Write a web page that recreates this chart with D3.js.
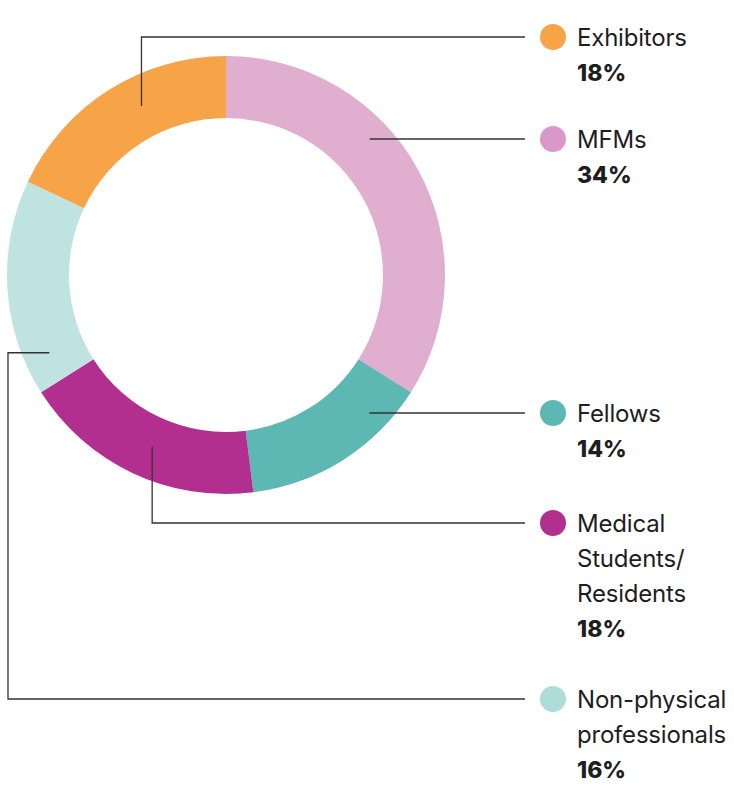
<!DOCTYPE html>
<html>
<head>
<meta charset="utf-8">
<script src="https://cdn.jsdelivr.net/npm/d3@7"></script>
<style>
  html, body { margin: 0; padding: 0; background: #fff; }
  svg { display: block; }
  text { font-family: Inter, "Noto Sans", sans-serif; fill: #1e1e1e; }
</style>
</head>
<body>
<svg id="chart" width="734" height="787"></svg>
<script>
const categories = ["MFMs", "Fellows", "Medical Students/Residents", "Non-physical professionals", "Exhibitors"];
const values = [34, 14, 18, 16, 18];
const labelLines = [["MFMs"], ["Fellows"], ["Medical", "Students/", "Residents"], ["Non-physical", "professionals"], ["Exhibitors"]];
const ringColors = ["#E0AECF", "#5DB8B3", "#B32F8F", "#BFE3E1", "#F7A348"];
const dotColors = ["#DB97C9", "#5DB8B3", "#B32F8F", "#ADDCD9", "#F7A348"];
const legendY = [139, 413, 523, 699, 37];
// where along each slice (0..1) and at which radius the leader line starts
const anchorT = [0.38, 0.23, 0.47, 0.15, 0.59];
const anchorRadius = [198, 199, 187, 193, 189];

const svg = d3.select("#chart");
const cx = 226, cy = 275, outerR = 219, innerR = 157;

const data = categories.map((c, i) => ({ name: c, value: values[i], i }));
const pie = d3.pie().value(d => d.value).sort(null);
const arcs = pie(data);
const arc = d3.arc().innerRadius(innerR).outerRadius(outerR);

const g = svg.append("g").attr("transform", `translate(${cx},${cy})`);
g.selectAll("path").data(arcs).join("path")
  .attr("d", arc)
  .attr("fill", d => ringColors[d.data.i]);

// leader lines
const lineX = 525;
function anchor(a) {
  const i = a.data.i;
  const ang = a.startAngle + anchorT[i] * (a.endAngle - a.startAngle);
  const r = anchorRadius[i];
  return [cx + r * Math.sin(ang), cy - r * Math.cos(ang)];
}

const leaders = svg.append("g").attr("fill", "none").attr("stroke", "#333").attr("stroke-width", 1.3);
arcs.forEach(a => {
  const i = a.data.i;
  const y = legendY[i];
  const p = anchor(a);
  let pts;
  if (i === 0 || i === 1) {
    pts = [[p[0], y], [lineX, y]];
  } else if (i === 3) {
    pts = [[p[0], p[1]], [8, p[1]], [8, y], [lineX, y]];
  } else {
    pts = [[p[0], p[1]], [p[0], y], [lineX, y]];
  }
  leaders.append("path").attr("d", d3.line()(pts));
});

// legend
const legend = svg.append("g");
data.forEach(d => {
  const y = legendY[d.i];
  legend.append("circle").attr("cx", 553).attr("cy", y).attr("r", 13).attr("fill", dotColors[d.i]);
  const lines = labelLines[d.i];
  lines.forEach((l, j) => {
    legend.append("text").attr("x", 577).attr("y", y + 9 + j * 35)
      .attr("font-size", 24).attr("letter-spacing", -0.2).text(l);
  });
  legend.append("text").attr("x", 577).attr("y", y + 9 + lines.length * 35)
    .attr("font-size", 23).attr("font-weight", 800).text(d.value + "%");
});
</script>
</body>
</html>
